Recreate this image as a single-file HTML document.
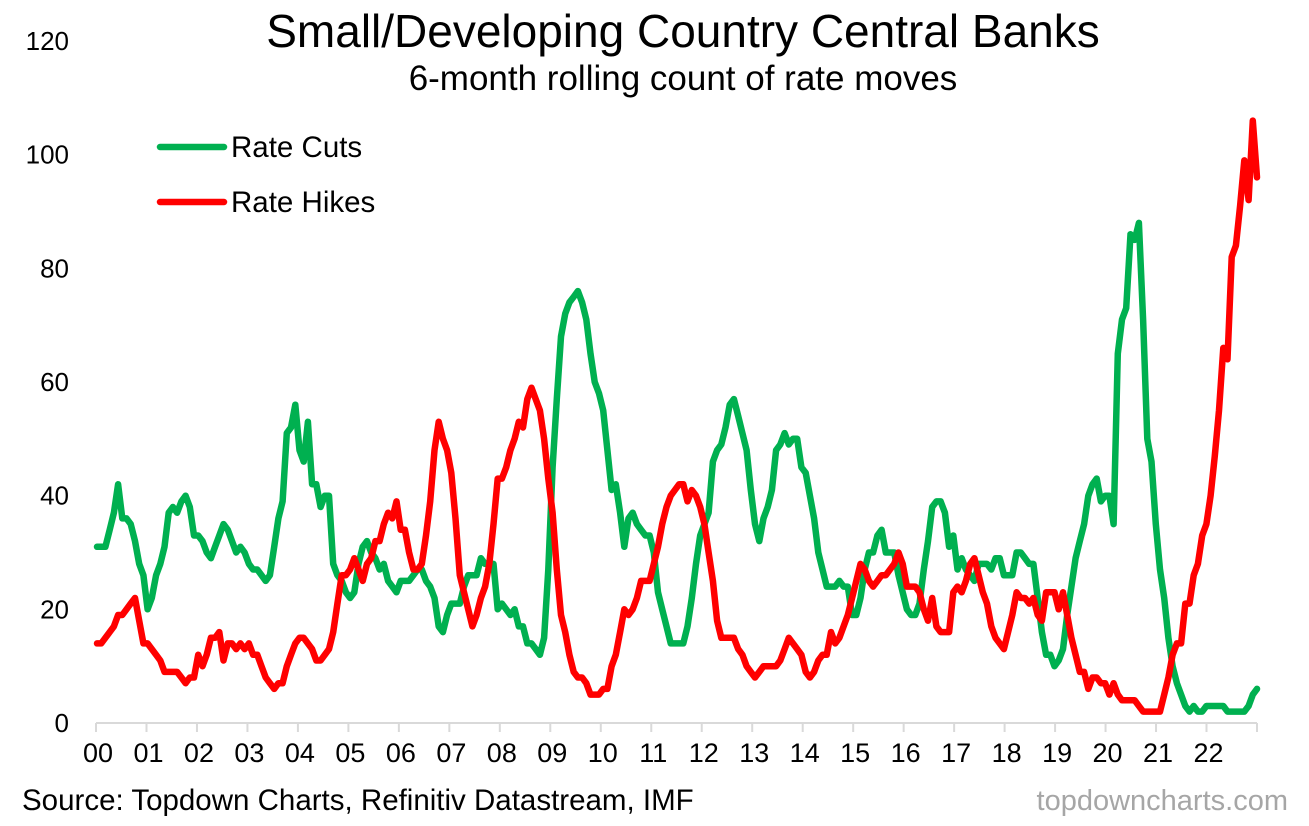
<!DOCTYPE html>
<html><head><meta charset="utf-8"><style>
html,body{margin:0;padding:0;background:#fff;}
svg{display:block;font-family:"Liberation Sans",Arial,sans-serif;}
</style></head><body>
<svg id="chart" width="1309" height="826" viewBox="0 0 1309 826" xmlns="http://www.w3.org/2000/svg">
<text x="683" y="47" text-anchor="middle" font-size="46" fill="#000">Small/Developing Country Central Banks</text>
<text x="683" y="90" text-anchor="middle" font-size="35" fill="#000">6-month rolling count of rate moves</text>
<g id="yaxis"></g>
<g id="xaxis"></g>
<g id="series"></g>
<g>
<line x1="160" y1="147" x2="224" y2="147" stroke="#00b050" stroke-width="6.5" stroke-linecap="round"/>
<text x="231" y="157" font-size="29.5">Rate Cuts</text>
<line x1="160" y1="202" x2="224" y2="202" stroke="#ff0000" stroke-width="6.5" stroke-linecap="round"/>
<text x="231" y="212" font-size="29.5">Rate Hikes</text>
</g>
<text x="22" y="810" font-size="29.5" fill="#000">Source: Topdown Charts, Refinitiv Datastream, IMF</text>
<text x="1288" y="810" text-anchor="end" font-size="29" fill="#a6a6a6">topdowncharts.com</text>
</svg>
<script>
const yearLabels = ["00","01","02","03","04","05","06","07","08","09","10","11","12","13","14","15","16","17","18","19","20","21","22"];
const yTicks = [0,20,40,60,80,100,120];
const rateCuts = [
31,31,31,34,37,42,36,36,35,32,28,26,
20,22,26,28,31,37,38,37,39,40,38,33,
33,32,30,29,31,33,35,34,32,30,31,30,
28,27,27,26,25,26,31,36,39,51,52,56,
48,46,53,42,42,38,40,40,28,26,25,23,
22,23,28,31,32,30,29,27,28,25,24,23,
25,25,25,26,27,27,25,24,22,17,16,19,
21,21,21,24,26,26,26,29,28,28,28,20,
21,20,19,20,17,17,14,14,13,12,15,27,
45,57,68,72,74,75,76,74,71,65,60,58,
55,48,41,42,37,31,36,37,35,34,33,33,
30,23,20,17,14,14,14,14,17,22,28,33,
35,37,46,48,49,52,56,57,54,51,48,41,
35,32,36,38,41,48,49,51,49,50,50,45,
44,40,36,30,27,24,24,24,25,24,24,19,
19,22,27,30,30,33,34,30,30,30,26,23,
20,19,19,21,27,32,38,39,39,37,31,33,
27,29,27,26,25,28,28,28,27,29,29,26,
26,26,30,30,29,28,28,22,16,12,12,10,
11,13,19,24,29,32,35,40,42,43,39,40,
40,35,65,71,73,86,85,88,71,50,46,35,
27,22,15,10,7,5,3,2,3,2,2,3,
3,3,3,3,2,2,2,2,2,3,5,6];
const rateHikes = [
14,14,15,16,17,19,19,20,21,22,18,14,
14,13,12,11,9,9,9,9,8,7,8,8,
12,10,12,15,15,16,11,14,14,13,14,13,
14,12,12,10,8,7,6,7,7,10,12,14,
15,15,14,13,11,11,12,13,16,21,26,26,
27,29,27,25,28,29,32,32,35,37,36,39,
34,34,30,27,27,28,33,39,48,53,50,48,
44,36,26,23,20,17,19,22,24,28,35,43,
43,45,48,50,53,52,57,59,57,55,50,43,
37,27,19,16,12,9,8,8,7,5,5,5,
6,6,10,12,16,20,19,20,22,25,25,25,
28,31,35,38,40,41,42,42,39,41,40,38,
35,30,25,18,15,15,15,15,13,12,10,9,
8,9,10,10,10,10,11,13,15,14,13,12,
9,8,9,11,12,12,16,14,15,17,19,22,
25,28,27,25,24,25,26,26,27,28,30,28,
24,24,24,23,20,18,22,17,16,16,16,23,
24,23,25,28,29,26,23,21,17,15,14,13,
16,19,23,22,22,21,22,19,18,23,23,23,
20,23,19,15,12,9,9,6,8,8,7,7,
5,7,5,4,4,4,4,3,2,2,2,2,
2,5,8,12,14,14,21,21,26,28,33,35,
40,47,55,66,64,82,84,91,99,92,106,96];

const NS = "http://www.w3.org/2000/svg";
const X0 = 97, X1 = 1257, Y0 = 723, YTOP = 41, YMAX = 120;
const AX0 = 96;
const nPts = rateCuts.length;
function xScale(i){ return X0 + i * (X1 - X0) / (nPts - 1); }
function yScale(v){ return Y0 - v * (Y0 - YTOP) / YMAX; }
function yearTickX(k){ return AX0 + k * (X1 - AX0) / yearLabels.length; }
function mk(tag, attrs){ const e = document.createElementNS(NS, tag); for (const k in attrs) e.setAttribute(k, attrs[k]); return e; }

const yAxis = document.getElementById('yaxis');
yTicks.forEach(v => {
  const t = mk('text', {x: 69, y: yScale(v) + 9, 'text-anchor': 'end', 'font-size': 26, fill: '#000'});
  
  
  t.textContent = v;
  yAxis.appendChild(t);
});

const xAxis = document.getElementById('xaxis');
const axisLine = mk('line', {x1: AX0, y1: Y0, x2: X1, y2: Y0, stroke: '#d9d9d9', 'stroke-width': 2});


xAxis.appendChild(axisLine);
for (let k = 0; k <= yearLabels.length; k++) {
  const tx = yearTickX(k);
  const tk = mk('line', {x1: tx, y1: Y0, x2: tx, y2: Y0 + 9, stroke: '#d9d9d9', 'stroke-width': 2});
  
  
  xAxis.appendChild(tk);
  if (k < yearLabels.length) {
    const t = mk('text', {x: tx + 2, y: 762, 'text-anchor': 'middle', 'font-size': 27, fill: '#000'});
    
    
    t.textContent = yearLabels[k];
    xAxis.appendChild(t);
  }
}

const series = document.getElementById('series');
function drawLine(vals, color, name){
  const d = vals.map((v, i) => (i ? 'L' : 'M') + xScale(i).toFixed(1) + ' ' + yScale(v).toFixed(1)).join(' ');
  const p = mk('path', {d: d, fill: 'none', stroke: color, 'stroke-width': 6.5, 'stroke-linejoin': 'round', 'stroke-linecap': 'round'});
  
  
  series.appendChild(p);
}
drawLine(rateCuts, '#00b050', 'rate-cuts-line');
drawLine(rateHikes, '#ff0000', 'rate-hikes-line');
</script>
</body></html>
